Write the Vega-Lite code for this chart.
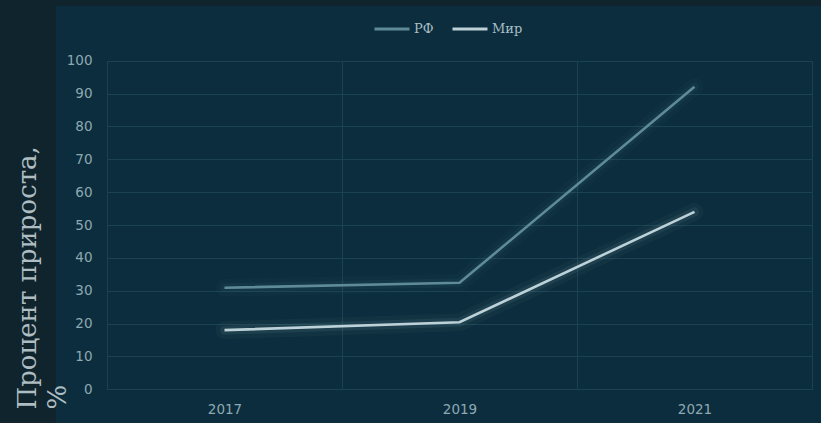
{
  "$schema": "https://vega.github.io/schema/vega-lite/v6.json",
  "width": 765,
  "height": 417,
  "autosize": {"type": "none"},
  "padding": {"left": 56, "top": 6, "right": 0, "bottom": 0},
  "background": "#10242d",
  "view": {"fill": "#0b2d3d", "stroke": null},
  "config": {
    "font": "DejaVu Sans"
  },
  "data": {
    "values": [
      {"year": "2017", "region": "РФ", "value": 30.9},
      {"year": "2019", "region": "РФ", "value": 32.4},
      {"year": "2021", "region": "РФ", "value": 92.1},
      {"year": "2017", "region": "Мир", "value": 18.0},
      {"year": "2019", "region": "Мир", "value": 20.4},
      {"year": "2021", "region": "Мир", "value": 54.0}
    ]
  },
  "encoding": {
    "x": {
      "field": "year",
      "type": "ordinal",
      "scale": {"type": "band", "paddingInner": 0, "paddingOuter": 0, "range": [51, 756]},
      "axis": {
        "title": null,
        "orient": "top",
        "offset": 0,
        "labelPadding": -403,
        "labelBaseline": "middle",
        "labelAngle": 0,
        "labelFont": "DejaVu Sans",
        "labelFontSize": 13.5,
        "labelColor": "#8ea9b2",
        "ticks": false,
        "domain": false,
        "grid": true,
        "tickBand": "extent",
        "gridColor": "#1a4253",
        "gridWidth": 1
      }
    },
    "y": {
      "field": "value",
      "type": "quantitative",
      "scale": {"domain": [0, 100], "range": [383.3, 54.7], "nice": false, "zero": true},
      "axis": {
        "title": ["Процент прироста,", "%"],
        "titleFont": "DejaVu Serif",
        "titleFontSize": 26,
        "titleFontWeight": "normal",
        "titleColor": "#aebdc2",
        "titleAngle": -90,
        "titleAlign": "left",
        "titleBaseline": "top",
        "titleLineHeight": 30,
        "titleX": -80,
        "titleY": 403,
        "offset": -38,
        "labelPadding": 2,
        "labelFont": "DejaVu Sans",
        "labelFontSize": 13.5,
        "labelColor": "#8ea9b2",
        "values": [0, 10, 20, 30, 40, 50, 60, 70, 80, 90, 100],
        "ticks": false,
        "domain": false,
        "grid": true,
        "gridColor": "#1a4253",
        "gridWidth": 1
      }
    },
    "color": {
      "field": "region",
      "type": "nominal",
      "scale": {"domain": ["РФ", "Мир"], "range": ["#5f8b97", "#bdd2d8"]},
      "legend": {
        "title": null,
        "orient": "none",
        "direction": "horizontal",
        "legendX": 317,
        "legendY": 4,
        "padding": 0,
        "symbolType": "stroke",
        "symbolSize": 1225,
        "symbolStrokeWidth": 3,
        "symbolOpacity": 1,
        "labelFont": "DejaVu Serif",
        "labelFontSize": 13,
        "labelColor": "#a9bec5",
        "labelOffset": 3,
        "columnPadding": 12
      }
    }
  },
  "layer": [
    {"mark": {"type": "line", "strokeWidth": 18, "opacity": 0.04, "strokeCap": "round", "strokeJoin": "round"}},
    {"mark": {"type": "line", "strokeWidth": 9, "opacity": 0.08, "strokeCap": "round", "strokeJoin": "round"}},
    {"mark": {"type": "line", "strokeWidth": 2.6, "strokeCap": "butt", "strokeJoin": "miter"}}
  ]
}
